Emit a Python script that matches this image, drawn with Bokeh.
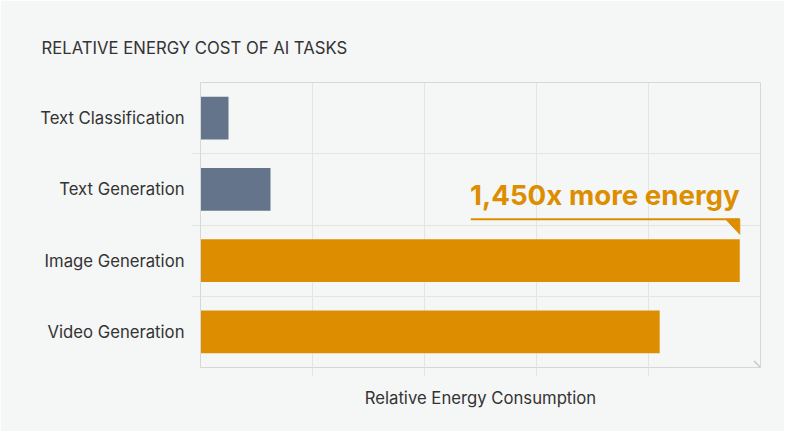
import math
from bokeh.plotting import figure
from bokeh.models import Range1d, FixedTicker, Label
from bokeh.core.properties import value
from bokeh.embed import file_html
from bokeh.resources import INLINE

# ---- data ----
tasks = ["Text Classification", "Text Generation", "Image Generation", "Video Generation"]
energy = [5.0, 12.5, 96.3, 82.0]          # relative energy (axis 0-100, unlabeled)
grid_ticks = [20, 40, 60, 80]
highlight = ["Image Generation", "Video Generation"]
annotation_text = "1,450x more energy"

BG = "#f5f6f6"
GRID = "#e3e4e4"
FRAME = "#d6d8d8"
GRAY = "#64748a"
ORANGE = "#dd8e00"
TXT = "#333333"
FONT = "Inter"
FS = "16.7px"

n = len(tasks)
centers = [i + 0.5 for i in range(n)]
colors = [ORANGE if t in highlight else GRAY for t in tasks]

p = figure(width=784, height=431, output_backend="svg", toolbar_location=None,
           x_range=Range1d(0, 100), y_range=Range1d(n, 0),
           min_border_left=200, min_border_right=24, min_border_top=82, min_border_bottom=64)
p.background_fill_color = BG
p.border_fill_color = BG
p.outline_line_color = FRAME
p.outline_line_width = 1

p.hbar(y=centers, right=energy, left=0, height=0.6, color=colors, line_color=None)

# title
p.title.text = "RELATIVE ENERGY COST OF AI TASKS"
p.title.text_font = FONT
p.title.text_font_size = FS
p.title.text_font_style = "normal"
p.title.text_color = TXT
p.title.align = "left"
p.title.offset = -159
p.title.standoff = 50

# y axis
ya = p.yaxis[0]
ya.ticker = FixedTicker(ticks=centers, minor_ticks=[i for i in range(1, n)])
ya.major_label_overrides = {c: t for c, t in zip(centers, tasks)}
ya.major_tick_line_color = None
ya.major_tick_out = 0
ya.major_tick_in = 0
ya.minor_tick_line_color = GRID
ya.minor_tick_out = 8
ya.minor_tick_in = 0
ya.axis_line_color = FRAME
ya.major_label_standoff = 8
ya.major_label_text_font = FONT
ya.major_label_text_font_size = FS
ya.major_label_text_color = TXT
p.ygrid.ticker = FixedTicker(ticks=[i for i in range(1, n)])
p.ygrid.grid_line_color = GRID

# x axis
xa = p.xaxis[0]
xa.ticker = FixedTicker(ticks=grid_ticks, minor_ticks=[])
xa.major_label_overrides = {t: "" for t in grid_ticks}
xa.major_label_text_font_size = "0px"
xa.major_tick_line_color = GRID
xa.major_tick_out = 8
xa.major_tick_in = 0
xa.minor_tick_line_color = None
xa.axis_line_color = FRAME
xa.axis_label = "Relative Energy Consumption"
xa.axis_label_text_font = FONT
xa.axis_label_text_font_size = FS
xa.axis_label_text_font_style = "normal"
xa.axis_label_text_color = TXT
xa.axis_label_standoff = 12
p.xgrid.ticker = FixedTicker(ticks=grid_ticks)
p.xgrid.grid_line_color = GRID

x_per_px = 100 / 560
band_px = 285 / n
y_per_px = 1 / band_px

# chevron at the end of the x axis (two rotated thin strokes)
for ang in (-math.pi / 4, math.pi / 4):
    p.add_layout(Label(x=p.x_range.end, y=p.y_range.start, text="\u2500", angle=ang,
                       text_align="right", text_baseline="middle",
                       text_font="DejaVu Sans Mono", text_font_size="15px",
                       text_color="#c4c6c6"))

# annotation over the image-generation bar
img_i = tasks.index("Image Generation")
img_v = energy[img_i]
bar_top = centers[img_i] - 0.3
under_y = bar_top - 20 * y_per_px
text_y = under_y - 24 * y_per_px
p.line(x=[img_v - 269 * x_per_px, img_v], y=[under_y, under_y], line_color=ORANGE, line_width=2)
p.patch(x=[img_v - 14 * x_per_px, img_v, img_v], y=[under_y, under_y, bar_top - 5 * y_per_px],
        color=ORANGE, line_color=ORANGE)
p.text(x=[img_v], y=[text_y], text=[annotation_text], text_align="right",
       text_baseline="alphabetic", text_font=value(FONT), text_font_size="27.7px",
       text_font_style="bold", text_color=ORANGE)

html = file_html(p, INLINE)
open("out.html", "w").write(html)
